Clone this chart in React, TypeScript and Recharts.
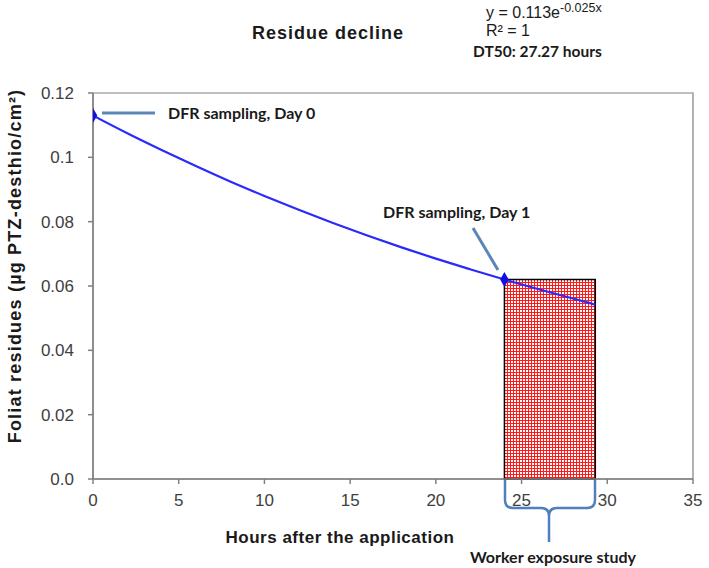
import { ComposedChart, Line, Scatter, XAxis, YAxis, ReferenceArea } from 'recharts';

// fitted decline curve (hours, µg/cm²)
const curveHours = [0, 2, 4, 6, 8, 10, 12, 14, 16, 18, 20, 22, 24, 26, 28, 29.3];
const curveResidues = [0.113, 0.1075, 0.1023, 0.0973, 0.0925, 0.088, 0.0837, 0.0796, 0.0757, 0.072, 0.0685, 0.0652, 0.062, 0.059, 0.0561, 0.0542];

// DFR sampling points (day 0 and day 1)
const sampleHours = [0, 24];
const sampleResidues = [0.113, 0.062];

// worker exposure window
const exposureStart = 24;
const exposureEnd = 29.3;
const exposureLevel = 0.062;

const xTicks = [0, 5, 10, 15, 20, 25, 30, 35];
const yTicks = [0, 0.02, 0.04, 0.06, 0.08, 0.1, 0.12];
const yTickLabels = ['0.0', '0.02', '0.04', '0.06', '0.08', '0.1', '0.12'];

const curveData = curveHours.map((h, i) => ({ h, v: curveResidues[i] }));
const sampleData = sampleHours.map((h, i) => ({ h, v: sampleResidues[i] }));

const arial = 'Liberation Sans, Arial, sans-serif';
const calibri = 'Lato, Open Sans, sans-serif';
const axisGrey = '#808080';
const leader = '#5b87b8';

export default function App() {
  return (
    <div style={{ position: 'absolute', left: 0, top: 0, width: 709, height: 568, background: '#fff' }}>
      <svg width="0" height="0" style={{ position: 'absolute' }}>
        <defs>
          <pattern id="redGrid" width="3" height="3" patternUnits="userSpaceOnUse">
            <rect width="3" height="3" fill="#ff1a1a" />
            <rect x="1" y="1" width="2" height="2" fill="#ffffff" />
          </pattern>
        </defs>
      </svg>
      <ComposedChart width={709} height={568} margin={{ top: 93, right: 16, bottom: 59, left: 0 }}>
        <XAxis
          type="number"
          dataKey="h"
          domain={[0, 35]}
          ticks={xTicks}
          allowDataOverflow
          stroke={axisGrey}
          strokeWidth={1.5}
          tickSize={5}
          tickMargin={10}
          height={30}
          tick={{ fill: '#404040', fontSize: 17, fontFamily: arial }}
        />
        <YAxis
          type="number"
          dataKey="v"
          width={93}
          domain={[0, 0.12]}
          ticks={yTicks}
          allowDataOverflow
          stroke={axisGrey}
          strokeWidth={1.5}
          tickSize={5}
          tickMargin={14}
          tickFormatter={(v: number) => yTickLabels[yTicks.indexOf(v)] ?? String(v)}
          tick={{ fill: '#404040', fontSize: 17, fontFamily: arial }}
        />
        <ReferenceArea x1={0} x2={35} y1={0} y2={0.12} fill="none" stroke={axisGrey} strokeWidth={1.2} />
        <ReferenceArea
          x1={exposureStart}
          x2={exposureEnd}
          y1={0}
          y2={exposureLevel}
          fill="url(#redGrid)"
          fillOpacity={1}
          stroke="#000"
          strokeWidth={1.5}
        />
        <Line
          data={curveData}
          dataKey="v"
          type="monotone"
          stroke="#2a2aff"
          strokeWidth={2.2}
          dot={false}
          isAnimationActive={false}
        />
        <Scatter data={sampleData} dataKey="v" shape="diamond" fill="#1010e0" isAnimationActive={false} />
      </ComposedChart>

      <svg width={709} height={568} style={{ position: 'absolute', left: 0, top: 0, pointerEvents: 'none' }}>
        <text x={252} y={39} fontFamily={arial} fontWeight="bold" fontSize={18} letterSpacing={1} fill="#1a1a1a">
          Residue decline
        </text>
        <text x={486} y={18} fontFamily={arial} fontSize={16} fill="#1a1a1a">
          y = 0.113e
          <tspan dy={-6} fontSize={12.5}>-0.025x</tspan>
        </text>
        <text x={486} y={36} fontFamily={arial} fontSize={16} fill="#1a1a1a">
          R² = 1
        </text>
        <text x={473} y={57} fontFamily={calibri} fontWeight="bold" fontSize={15.5} fill="#1a1a1a">
          DT50: 27.27 hours
        </text>

        <text
          transform="translate(21 266) rotate(-90)"
          textAnchor="middle"
          fontFamily={arial}
          fontWeight="bold"
          fontSize={18}
          letterSpacing={1.2}
          fill="#1a1a1a"
        >
          Foliat residues  (µg PTZ-desthio/cm²)
        </text>
        <text x={340} y={543} textAnchor="middle" fontFamily={arial} fontWeight="bold" fontSize={17} letterSpacing={0.5} fill="#1a1a1a">
          Hours after the application
        </text>

        <line x1={102} y1={113} x2={155} y2={113} stroke={leader} strokeWidth={3} />
        <text x={168} y={119} fontFamily={calibri} fontWeight="bold" fontSize={16} fill="#1a1a1a">
          DFR sampling, Day 0
        </text>
        <line x1={473} y1={228} x2={498} y2={270} stroke={leader} strokeWidth={3} />
        <text x={383} y={218} fontFamily={calibri} fontWeight="bold" fontSize={16} fill="#1a1a1a">
          DFR sampling, Day 1
        </text>

        <path
          d="M505 480 L505 500 Q505 508 513 508 L541 508 Q549 508 549 516 L549 542 M549 516 Q549 508 557 508 L587 508 Q595 508 595 500 L595 480"
          fill="none"
          stroke="#4f80bd"
          strokeWidth={2.5}
        />
        <text x={553} y={563} textAnchor="middle" fontFamily={calibri} fontWeight="bold" fontSize={16} fill="#1a1a1a">
          Worker exposure study
        </text>
      </svg>
    </div>
  );
}
